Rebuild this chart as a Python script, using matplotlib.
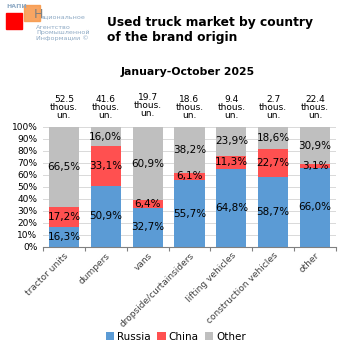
import numpy as np
import matplotlib.pyplot as plt
from matplotlib.patches import Rectangle

categories = ["tractor units", "dumpers", "vans", "dropside/curtainsiders",
              "lifting vehicles", "construction vehicles", "other"]
totals = ["52.5", "41.6", "19.7", "18.6", "9.4", "2.7", "22.4"]
russia = [16.3, 50.9, 32.7, 55.7, 64.8, 58.7, 66.0]
china = [17.2, 33.1, 6.4, 6.1, 11.3, 22.7, 3.1]
other = [66.5, 16.0, 60.9, 38.2, 23.9, 18.6, 30.9]

c_ru = "#5B9BD5"
c_cn = "#FF5050"
c_ot = "#BFBFBF"

fig = plt.figure(figsize=(3.53, 3.53), dpi=100)
ax = fig.add_axes([43/353, 1 - 247/353, 293/353, 120/353])

x = np.arange(len(categories))
w = 0.72
b1 = ax.bar(x, russia, w, color=c_ru, label="Russia", zorder=2)
b2 = ax.bar(x, china, w, bottom=russia, color=c_cn, label="China", zorder=2)
b3 = ax.bar(x, other, w, bottom=np.array(russia) + np.array(china),
            color=c_ot, label="Other", zorder=2)

def fmt(v):
    return f"{v:.1f}%".replace(".", ",")

for i in range(len(categories)):
    ax.text(x[i], russia[i] / 2, fmt(russia[i]), ha="center", va="center", fontsize=7.5)
    ax.text(x[i], russia[i] + china[i] / 2, fmt(china[i]), ha="center", va="center", fontsize=7.5)
    ax.text(x[i], russia[i] + china[i] + other[i] / 2, fmt(other[i]),
            ha="center", va="center", fontsize=7.5)
    off = 7.5 if i == 2 else 5.5
    ax.text(x[i], 100 + off, totals[i] + "\nthous.\nun.", ha="center", va="bottom",
            fontsize=6.5, linespacing=0.85)

ax.set_xlim(-0.5, len(categories) - 0.5)
ax.set_ylim(0, 100)
ax.set_yticks(np.arange(0, 101, 10))
ax.set_yticklabels([f"{v}%" for v in range(0, 101, 10)], fontsize=6.5)
ax.yaxis.grid(True, color="#D9D9D9", linewidth=0.7, zorder=0)
ax.tick_params(axis="y", length=0, pad=4)
ax.set_xticks(np.arange(-0.5, len(categories), 1), minor=False)
ax.set_xticklabels([])
ax.set_xticks(x, minor=True)
ax.set_xticklabels(categories, minor=True, rotation=45, ha="right",
                   rotation_mode="anchor", fontsize=6.5, color="#404040")
ax.tick_params(axis="x", which="minor", length=0, pad=3)
ax.tick_params(axis="x", which="major", length=3, color="#808080", direction="out")
for s in ["top", "right", "left"]:
    ax.spines[s].set_visible(False)
ax.spines["bottom"].set_color("#808080")

fig.legend(handles=[b1, b2, b3], labels=["Russia", "China", "Other"], loc="center",
           bbox_to_anchor=(176/353, 1 - 337/353), ncol=3, frameon=False, fontsize=7.5,
           handlelength=0.8, handleheight=0.8, handletextpad=0.3, columnspacing=0.6)

fig.text(107/353, 1 - 30/353, "Used truck market by country\nof the brand origin",
         fontsize=8.8, fontweight="bold", ha="left", va="center", linespacing=1.15)
fig.text(188/353, 1 - 72/353, "January-October 2025", fontsize=7.8,
         fontweight="bold", ha="center", va="center")

# logo
fig.patches.append(Rectangle((6/353, 1 - 29/353), 16/353, 16/353, color="#FF0000",
                             transform=fig.transFigure, figure=fig))
fig.patches.append(Rectangle((24/353, 1 - 21/353), 16/353, 16/353, color="#F79646",
                             alpha=0.85, transform=fig.transFigure, figure=fig))
fig.text(6/353, 1 - 7/353, "НАПИ", fontsize=4.5, color="#8DA9C4", ha="left", va="center",
         fontweight="bold")
fig.text(34/353, 1 - 15/353, "Н", fontsize=9, color="#7F7F7F", ha="left", va="center")
fig.text(41/353, 1 - 17/353, "ациональное", fontsize=4.6, color="#8DA9C4",
         ha="left", va="center")
fig.text(36/353, 1 - 33/353, "Агентство\nПромышленной\nИнформации ©",
         fontsize=4.6, color="#8DA9C4", ha="left", va="center", linespacing=1.05)

fig.savefig("out.png", dpi=100)
